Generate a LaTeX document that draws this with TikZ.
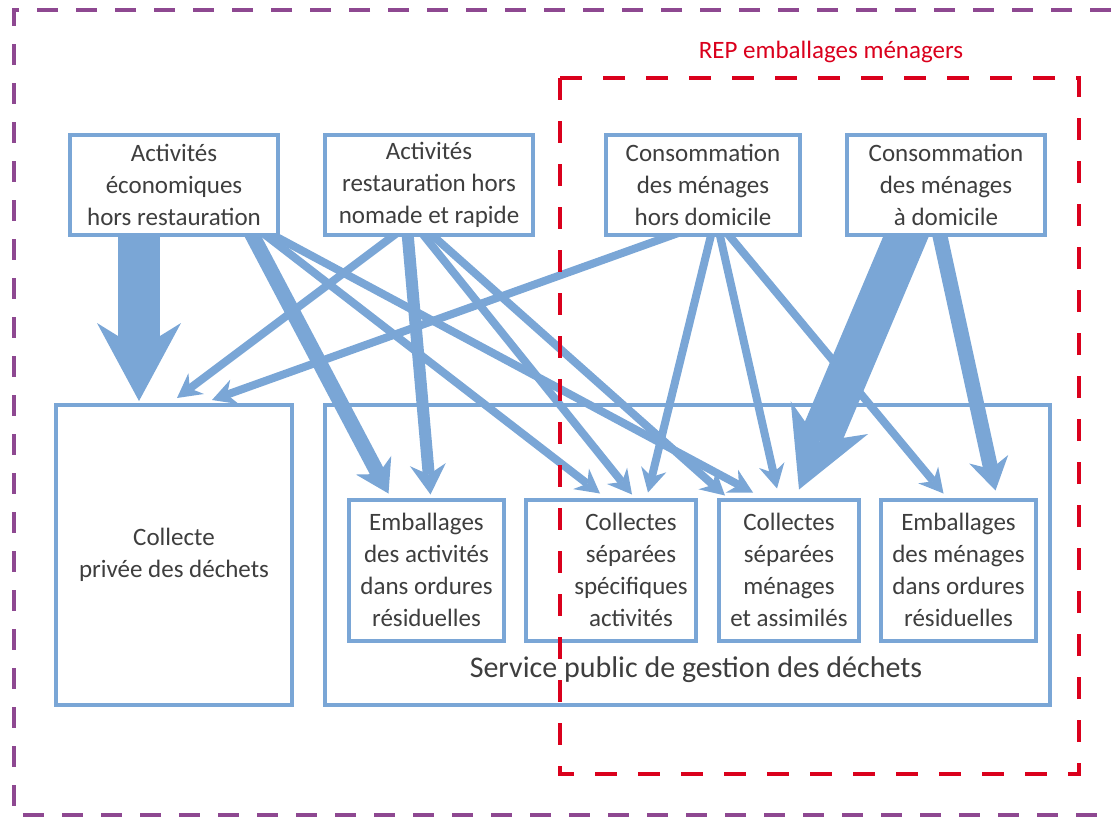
\documentclass[tikz,border=0pt]{standalone}
\usepackage{fontspec}
\setmainfont{Carlito}
\usetikzlibrary{arrows.meta,calc}
\definecolor{bblue}{RGB}{122,166,214}
\definecolor{tgray}{RGB}{62,62,62}
\definecolor{pframe}{RGB}{142,72,145}
\definecolor{rframe}{RGB}{218,0,28}
\pgfdeclarelayer{bg}
\pgfsetlayers{bg,main}
\tikzset{
  boxfont/.style={font=\fontsize{25pt}{32pt}\selectfont},
  box/.style={draw=bblue, line width=4pt, fill=white, align=center, inner sep=0pt, text=tgray, boxfont},
  boxtext/.style={align=center, inner sep=0pt, text=tgray, boxfont},
  bigbox/.style={draw=bblue, line width=4pt, inner sep=0pt},
  thinarr/.style={draw=bblue, line width=8pt, -{Stealth[length=24pt,width=26pt,inset=8pt,line width=0pt]}},
  midarr/.style={draw=bblue, line width=12pt, -{Stealth[length=30pt,width=36pt,inset=10pt,line width=0pt]}},
  medarr/.style={draw=bblue, line width=15pt, -{Stealth[length=32pt,width=40pt,inset=10pt,line width=0pt]}},
  fatarr/.style={draw=bblue, line width=42pt, -{Stealth[length=78pt,width=84pt,inset=26pt,line width=0pt]}},
  purpleframe/.style={draw=pframe, line width=3.5pt, dash pattern=on 21pt off 18pt},
  redframe/.style={draw=rframe, line width=4.5pt, dash pattern=on 22pt off 21pt},
}
\begin{document}
\begin{tikzpicture}[x=1pt,y=-1pt]
\useasboundingbox (0,0) rectangle (1111,819);

% top boxes
\node[box, minimum width=208pt, minimum height=100pt] (A) at (174,185) {Activités\\économiques\\hors restauration};
\node[box, minimum width=208pt, minimum height=100pt] (B) at (429,185) {Activités\\restauration hors\\nomade et rapide};
\node[box, minimum width=194pt, minimum height=100pt] (C) at (703,185) {Consommation\\des ménages\\hors domicile};
\node[box, minimum width=198pt, minimum height=100pt] (D) at (946,185) {Consommation\\des ménages\\à domicile};

% bottom boxes
\node[box, minimum width=236pt, minimum height=300pt] (CP) at (174,555) {Collecte\\privée des déchets};
\node[bigbox, minimum width=725pt, minimum height=300pt] (SP) at (687.5,555) {};
\node[text=tgray, font=\fontsize{30pt}{36pt}\selectfont, inner sep=0pt] (SPT) at (696,670) {Service public de gestion des déchets};

\node[box, minimum width=155pt, minimum height=141pt] (E1) at (426.5,570) {Emballages\\des activités\\dans ordures\\résiduelles};
\node[box, minimum width=170pt, minimum height=141pt] (E2) at (611,570) {};
\node[boxtext] (E2T) at ([xshift=20pt]E2.center) {Collectes\\séparées\\spécifiques\\activités};
\node[box, minimum width=140pt, minimum height=141pt] (E3) at (789,570) {Collectes\\séparées\\ménages\\et assimilés};
\node[box, minimum width=155pt, minimum height=141pt] (E4) at (958.5,570) {Emballages\\des ménages\\dans ordures\\résiduelles};

% arrows
\begin{pgfonlayer}{bg}
\draw[fatarr] ([xshift=-35pt,yshift=10pt]A.south) -- ([xshift=-35pt,yshift=2pt]CP.north);
\draw[medarr] ([xshift=74pt,yshift=10pt]A.south) -- ([xshift=-38pt,yshift=4pt]E1.north);
\draw[thinarr] ([xshift=81pt,yshift=10pt]A.south) -- ([xshift=-11pt,yshift=4pt]E2.north);
\draw[thinarr] ([xshift=84pt,yshift=10pt]A.south) -- ([xshift=-36pt,yshift=5pt]E3.north);

\draw[thinarr] ([xshift=-24pt,yshift=10pt]B.south) -- ([xshift=3pt,yshift=5pt]CP.north);
\draw[midarr] ([xshift=-22pt,yshift=10pt]B.south) -- ([xshift=4pt,yshift=3pt]E1.north);
\draw[thinarr] ([xshift=-12pt,yshift=10pt]B.south) -- ([xshift=21pt,yshift=3pt]E2.north);
\draw[thinarr] ([xshift=-6pt,yshift=10pt]B.south) -- ([xshift=-64pt,yshift=2pt]E3.north);

\draw[thinarr] ([xshift=-8pt,yshift=10pt]C.south) -- ([xshift=38pt,yshift=3pt]CP.north);
\draw[thinarr] ([xshift=10pt,yshift=10pt]C.south) -- ([xshift=37pt,yshift=5pt]E2.north);
\draw[thinarr] ([xshift=15pt,yshift=10pt]C.south) -- ([xshift=-12pt,yshift=9pt]E3.north);
\draw[thinarr] ([xshift=19pt,yshift=10pt]C.south) -- ([xshift=-15pt,yshift=4pt]E4.north);

\draw[fatarr] ([xshift=-36pt,yshift=10pt]D.south) -- ([xshift=10pt,yshift=8pt]E3.north);
\draw[medarr] ([xshift=-8pt,yshift=10pt]D.south) -- ([xshift=37pt,yshift=7pt]E4.north);
\end{pgfonlayer}

% frames
\draw[redframe] (560,78) rectangle (1079,774);
\node[text=rframe, font=\fontsize{25pt}{30pt}\selectfont, inner sep=0pt] (REP) at (831,52) {REP emballages ménagers};
\draw[purpleframe] (1111,10) -- (14,10) -- (14,815) -- (1111,815);
\end{tikzpicture}
\end{document}
